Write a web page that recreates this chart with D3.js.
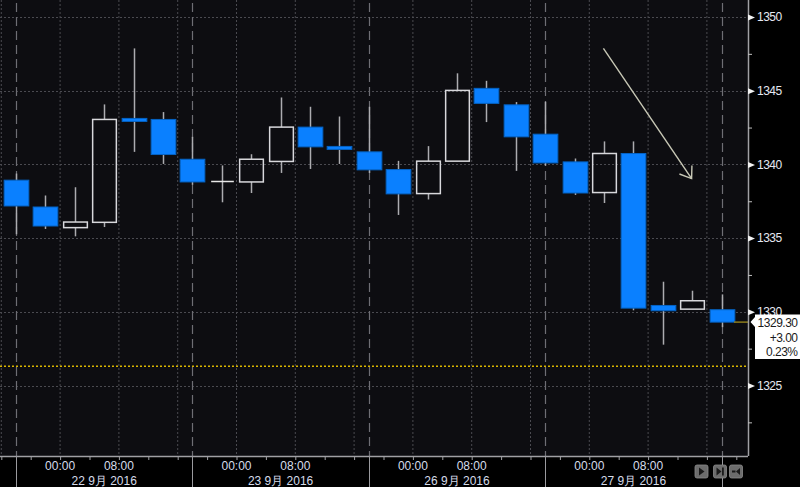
<!DOCTYPE html>
<html><head><meta charset="utf-8">
<script src="https://cdn.jsdelivr.net/npm/d3@7"></script>
<style>html,body{margin:0;padding:0;background:#000;} svg{display:block}</style>
</head><body><svg id="c" width="800" height="487"></svg>
<script>
// ---- data (4-hour bars) ----
const barStart = ["2016-09-21 16:00","2016-09-21 20:00","2016-09-22 00:00","2016-09-22 04:00","2016-09-22 08:00","2016-09-22 12:00",
 "2016-09-22 16:00","2016-09-22 20:00","2016-09-23 00:00","2016-09-23 04:00","2016-09-23 08:00","2016-09-23 12:00",
 "2016-09-25 16:00","2016-09-25 20:00","2016-09-26 00:00","2016-09-26 04:00","2016-09-26 08:00","2016-09-26 12:00",
 "2016-09-26 16:00","2016-09-26 20:00","2016-09-27 00:00","2016-09-27 04:00","2016-09-27 08:00","2016-09-27 12:00",
 "2016-09-27 16:00"];
const openV  = [1338.93,1337.11,1335.71,1336.07,1343.12,1343.05,1340.35,1338.84,1338.81,1340.20,1342.53,1341.22,1340.85,1339.65,1338.02,1340.22,1345.16,1344.04,1342.05,1340.17,1338.09,1340.74,1330.43,1330.18,1330.14];
const highV  = [1339.38,1337.89,1338.45,1344.07,1347.87,1343.55,1341.87,1339.93,1340.69,1344.54,1343.91,1343.25,1343.91,1340.24,1341.24,1346.18,1345.67,1344.23,1344.25,1340.40,1341.56,1341.56,1332.04,1331.43,1331.18];
const lowV   = [1335.26,1335.62,1335.12,1335.75,1340.85,1340.03,1338.61,1337.43,1338.06,1339.42,1339.69,1340.03,1339.42,1336.57,1337.62,1340.22,1342.87,1339.56,1339.92,1337.93,1337.38,1330.10,1327.77,1330.18,1328.96];
const closeV = [1337.18,1335.82,1336.09,1343.05,1342.98,1340.67,1338.81,1338.84,1340.35,1342.53,1341.19,1341.15,1339.63,1338.00,1340.22,1345.02,1344.14,1341.87,1340.10,1338.06,1340.74,1330.25,1330.07,1330.75,1329.30];
const sessionLabels = ["22 9月 2016","23 9月 2016","26 9月 2016","27 9月 2016"];
const timeTickLabels = ["00:00","08:00"];
const yMajorTicks = [1325,1330,1335,1340,1345,1350];
const yMinorTicks = [1322.5,1327.5,1332.5,1337.5,1342.5,1347.5];
const prevClose = 1326.30;
const lastPrice = 1329.30, netChange = "+3.00", pctChange = "0.23%";
const barsPerSession = 6;
const arrowFrom = [19.98, 1347.87], arrowTo = [22.98, 1339.04];

// ---- layout ----
const svg = d3.select("#c");
const W = 800, H = 487, plotR = 748, plotB = 456;
const n = barStart.length;
const x = d3.scaleLinear().domain([0, n-1]).range([16, 721.6]);
const y = d3.scaleLinear().domain([1325, 1350]).range([385.5, 17]);
const step = x(1) - x(0);
const bodyW = step * 0.84;
const FONT = "'Liberation Sans', Arial, sans-serif";

svg.append("rect").attr("width", W).attr("height", H).attr("fill", "#000");
svg.append("rect").attr("width", plotR).attr("height", plotB).attr("fill", "#0d0d11");

const hourOf = s => s.slice(11);
const gridV = d3.range(-0.5, n, 2);
svg.append("g").selectAll("line").data(gridV).join("line")
  .attr("x1", d => x(d)).attr("x2", d => x(d)).attr("y1", 0).attr("y2", plotB)
  .attr("stroke", "#4a4a50").attr("stroke-width", 1).attr("stroke-dasharray", "2,2");
svg.append("g").selectAll("line").data(yMajorTicks).join("line")
  .attr("x1", 0).attr("x2", plotR).attr("y1", d => Math.round(y(d)) + 0.5).attr("y2", d => Math.round(y(d)) + 0.5)
  .attr("stroke", "#4a4a50").attr("stroke-width", 1).attr("stroke-dasharray", "2,2");
const sepIdx = d3.range(0, n, barsPerSession);
svg.append("g").selectAll("line").data(sepIdx).join("line")
  .attr("x1", d => Math.round(x(d)) + 0.5).attr("x2", d => Math.round(x(d)) + 0.5).attr("y1", 3).attr("y2", plotB)
  .attr("stroke", "#6e6e74").attr("stroke-width", 1.2).attr("stroke-dasharray", "9,5");

svg.append("line").attr("x1", 0).attr("x2", plotR).attr("y1", y(prevClose)).attr("y2", y(prevClose))
  .attr("stroke", "#d8b400").attr("stroke-width", 1.5).attr("stroke-dasharray", "2,2");

// ---- candles ----
const data = barStart.map((t, i) => ({i, o: openV[i], h: highV[i], l: lowV[i], c: closeV[i]}));
const cg = svg.append("g");
data.forEach(d => {
  const cx = Math.round(x(d.i)) + 0.5;
  const top = y(Math.max(d.o, d.c)), bot = y(Math.min(d.o, d.c));
  const up = d.c > d.o, flat = d.c === d.o;
  const wickCol = "#acacb0";
  if (up) {
    cg.append("line").attr("x1", cx).attr("x2", cx).attr("y1", y(d.h)).attr("y2", top).attr("stroke", wickCol).attr("stroke-width", 1.5);
    cg.append("line").attr("x1", cx).attr("x2", cx).attr("y1", bot).attr("y2", y(d.l)).attr("stroke", wickCol).attr("stroke-width", 1.5);
    cg.append("rect").attr("x", cx - bodyW/2 + 0.5).attr("y", top).attr("width", bodyW - 1).attr("height", Math.max(bot - top, 2))
      .attr("fill", "none").attr("stroke", "#d8d8dc").attr("stroke-width", 1.5);
  } else if (flat) {
    cg.append("line").attr("x1", cx).attr("x2", cx).attr("y1", y(d.h)).attr("y2", y(d.l)).attr("stroke", wickCol).attr("stroke-width", 1.5);
    cg.append("line").attr("x1", cx - bodyW/2 + 1).attr("x2", cx + bodyW/2 - 1).attr("y1", top).attr("y2", top).attr("stroke", "#e8e8e8").attr("stroke-width", 1.5);
  } else {
    cg.append("line").attr("x1", cx).attr("x2", cx).attr("y1", y(d.h)).attr("y2", y(d.l)).attr("stroke", wickCol).attr("stroke-width", 1.5);
    const hgt = Math.max(bot - top, 3);
    cg.append("rect").attr("x", cx - bodyW/2).attr("y", top).attr("width", bodyW).attr("height", hgt)
      .attr("fill", "#0a80ff").attr("stroke", "#0563c4").attr("stroke-width", 1);
  }
});

const last = data[n-1];
svg.append("line").attr("x1", x(last.i) + bodyW/2).attr("x2", plotR).attr("y1", y(lastPrice)).attr("y2", y(lastPrice))
  .attr("stroke", "#8c7c1c").attr("stroke-width", 1.5);

// annotation arrow
(function(){
  const x1 = x(arrowFrom[0]), y1 = y(arrowFrom[1]), x2 = x(arrowTo[0]), y2 = y(arrowTo[1]);
  const ang = Math.atan2(y2 - y1, x2 - x1) + Math.PI;
  const L = 13, spread = 0.62;
  const g = svg.append("g").attr("stroke", "#c8c8b6").attr("stroke-width", 1.4).attr("fill", "none");
  g.append("line").attr("x1", x1).attr("y1", y1).attr("x2", x2).attr("y2", y2);
  g.append("polyline").attr("points", [
    [x2 + L*Math.cos(ang - spread), y2 + L*Math.sin(ang - spread)], [x2, y2],
    [x2 + L*Math.cos(ang + spread), y2 + L*Math.sin(ang + spread)]].map(p => p.join(",")).join(" "));
})();

// ---- axes ----
svg.append("line").attr("x1", plotR + 0.5).attr("x2", plotR + 0.5).attr("y1", 0).attr("y2", plotB).attr("stroke", "#a0a0a4").attr("stroke-width", 1.5);
svg.append("line").attr("x1", 0).attr("x2", plotR).attr("y1", plotB + 0.5).attr("y2", plotB + 0.5).attr("stroke", "#a0a0a4").attr("stroke-width", 1.5);

const boxTop = y(lastPrice) - 7.5;
svg.append("defs").append("clipPath").attr("id", "aboveBox")
  .append("rect").attr("x", plotR).attr("y", 0).attr("width", W - plotR).attr("height", boxTop);

const yAxis = d3.axisRight(y).tickValues(yMajorTicks).tickSize(0).tickPadding(9).tickFormat(d3.format("d"));
const ya = svg.append("g").attr("transform", `translate(${plotR},0)`).call(yAxis);
ya.select(".domain").remove();
ya.selectAll("text").attr("fill", "#e4e8f2").attr("font-family", FONT).attr("font-size", 12).attr("letter-spacing", "-0.5px");
ya.selectAll(".tick").append("path").attr("d", "M0,-3L7,0L0,3Z").attr("fill", "#f2f2f2");
const yMinor = d3.axisRight(y).tickValues(yMinorTicks).tickSize(4).tickFormat("");
const ym = svg.append("g").attr("transform", `translate(${plotR},0)`).call(yMinor);
ym.select(".domain").remove();
ym.selectAll("line").attr("stroke", "#c0c0c0");

const xMinor = d3.axisBottom(x).tickValues(d3.range(-0.5, n, 1)).tickSize(4).tickFormat("");
const xm = svg.append("g").attr("transform", `translate(0,${plotB})`).call(xMinor);
xm.select(".domain").remove();
xm.selectAll("line").attr("stroke", "#a0a0a4");
svg.append("g").selectAll("line").data(sepIdx).join("line")
  .attr("x1", d => Math.round(x(d)) + 0.5).attr("x2", d => Math.round(x(d)) + 0.5).attr("y1", plotB).attr("y2", H)
  .attr("stroke", "#9a9a9e").attr("stroke-width", 1);
const timeTicks = [];
barStart.forEach((s, i) => { if (timeTickLabels.includes(hourOf(s))) timeTicks.push({pos: i - 0.5, label: hourOf(s)}); });
svg.append("g").selectAll("text").data(timeTicks).join("text")
  .attr("x", d => x(d.pos)).attr("y", 470).attr("text-anchor", "middle")
  .attr("fill", "#d6dcea").attr("font-family", FONT).attr("font-size", 12).text(d => d.label);
svg.append("g").selectAll("text").data(sessionLabels).join("text")
  .attr("x", (d, k) => x(k * barsPerSession + barsPerSession / 2)).attr("y", 484.5).attr("text-anchor", "middle")
  .attr("fill", "#d6dcea").attr("font-family", FONT).attr("font-size", 12).text(d => d);

// last price box
(function(){
  const py = y(lastPrice);
  const g = svg.append("g");
  g.append("path").attr("d", `M${plotR+2.5},${py} L${plotR+7},${py-5} L${plotR+7},${py-7.5} L${W},${py-7.5} L${W},${py+37} L${plotR+7},${py+37} L${plotR+7},${py+5} Z`)
    .attr("fill", "#ffffff");
  const tx = 797.5;
  [[lastPrice.toFixed(2), 5], [netChange, 19.5], [pctChange, 34]].forEach(([t, dy]) => {
    g.append("text").attr("x", tx).attr("y", py + dy).attr("text-anchor", "end")
      .attr("fill", "#1a1a1a").attr("font-family", FONT).attr("font-size", 12).attr("letter-spacing", "-0.5px").text(t);
  });
})();

// navigation buttons
(function(){
  const bx = [695, 713.5, 729.5];
  const g = svg.append("g");
  bx.forEach((b, k) => {
    g.append("rect").attr("x", b).attr("y", 465).attr("width", 13).attr("height", 13).attr("rx", 2)
      .attr("fill", "#6c6c6c").attr("stroke", "#8a8a8a").attr("stroke-width", 0.8);
    const cx = b + 6.5, cy = 471.5;
    if (k === 0) g.append("path").attr("d", `M${cx-2.5},${cy-4}L${cx+3},${cy}L${cx-2.5},${cy+4}Z`).attr("fill", "#1a1a1a");
    if (k === 1) { g.append("path").attr("d", `M${cx-3.5},${cy-4}L${cx+1.5},${cy}L${cx-3.5},${cy+4}Z`).attr("fill", "#1a1a1a");
                   g.append("rect").attr("x", cx + 2).attr("y", cy - 4).attr("width", 1.8).attr("height", 8).attr("fill", "#1a1a1a"); }
    if (k === 2) { g.append("path").attr("d", `M${cx+4},${cy-3.5}L${cx},${cy}L${cx+4},${cy+3.5}Z`).attr("fill", "#1a1a1a");
                   g.append("rect").attr("x", cx - 4).attr("y", cy - 1).attr("width", 3.5).attr("height", 2).attr("fill", "#1a1a1a"); }
  });
})();
</script>
</body></html>
